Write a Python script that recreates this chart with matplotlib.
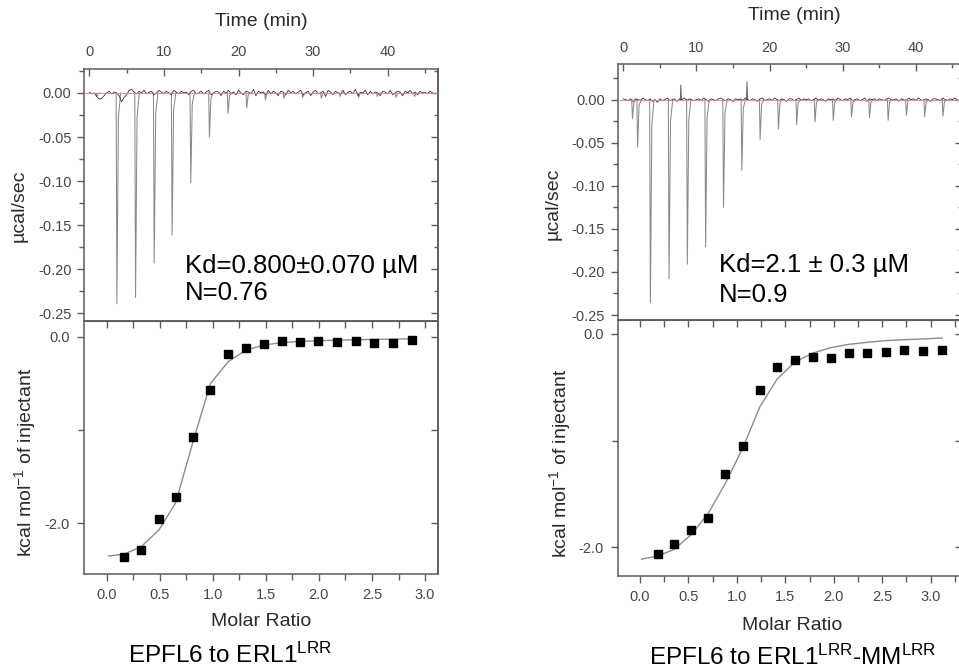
import numpy as np
import matplotlib
matplotlib.use("Agg")
import matplotlib.pyplot as plt
from matplotlib.ticker import MultipleLocator, FormatStrFormatter

plt.rcParams.update({
    "font.family": "sans-serif",
    "font.sans-serif": ["Liberation Sans", "DejaVu Sans"],
    "mathtext.fontset": "custom",
    "mathtext.rm": "Liberation Sans",
    "mathtext.it": "Liberation Sans:italic",
    "mathtext.bf": "Liberation Sans:bold",
    "axes.unicode_minus": False,
})

W, H = 959, 671
INK, TICK, SPINE = "#2a2a2a", "#474747", "#5c5c5c"

# ---- raw thermograms: injection times (min) and peak heights (µcal/sec) ----
L_INJ_T = [1.0, 3.7, 6.2, 8.7, 11.1, 13.6, 16.1, 18.6, 21.1, 23.6, 26.1, 28.6, 31.1,
           33.6, 36.1, 38.6, 41.1, 43.6]
L_INJ_D = [-0.004, -0.239, -0.232, -0.193, -0.161, -0.102, -0.050, -0.023, -0.017,
           -0.008, -0.006, -0.005, -0.006, -0.004, -0.005, -0.004, -0.005, -0.004]
R_INJ_T = [1.25, 1.95, 3.7, 6.25, 8.75, 11.25, 13.7, 16.2, 18.7, 21.2, 23.7, 26.2,
           28.7, 31.2, 33.65, 36.2, 38.7, 41.2, 43.7]
R_INJ_D = [-0.022, -0.055, -0.236, -0.208, -0.191, -0.171, -0.125, -0.082, -0.046,
           -0.034, -0.029, -0.026, -0.024, -0.020, -0.021, -0.024, -0.018, -0.020, -0.019]
R_SPIKE_T = [7.85, 16.9]
R_SPIKE_H = [0.017, 0.021]

# baseline wiggle, 1e-3 µcal/sec, three samples per minute from 0 to 46 min
L_NOISE = [1, -1, 0, -4, -7, -6, -3, 0, 2, -1, 1, 0, -3, -10, -5,
           -2, 3, 4, 1, -1, 2, 0, 3, -1, 1, 2, -2, 0, 3, 1,
           -1, 2, 0, -2, 3, 1, -1, 2, 0, 1, -2, 2, 3, -1, 0,
           2, -1, 1, 3, -2, 0, 2, 1, -3, 2, 0, 3, -1, 1, -2,
           3, 0, -2, 2, 1, -1, 4, -3, 2, 0, 1, -2, 3, -1, 2,
           0, -3, 2, 1, -2, 3, 0, 2, -1, 1, 3, -2, 0, 2, -3,
           1, 3, -1, 0, 2, -4, 3, 1, -2, 2, 0, -1, 3, -2, 1,
           2, -1, 4, -3, 1, 0, 3, -2, 2, -1, 1, 0, -3, 2, 1,
           -1, 3, -2, 0, 2, 1, -3, 2, 0, 3, -1, 1, -2, 2, 0,
           1, -1, 2, 0]
R_NOISE = [1, 0, -1, 1, -2, 1, 0, -1, 2, 0, -1, 1, -2, 0, -3,
           1, -1, 0, 2, -1, 0, 1, -2, 1, 0, 2, -1, 1, 0, -1,
           0, 1, -1, 2, 0, -2, 1, 0, -1, 1, 2, 0, -1, 1, 0,
           -2, 1, 0, 1, -1, 2, 0, -1, 1, 0, -2, 1, 2, -1, 0,
           1, -1, 2, 0, -1, 1, 0, -2, 1, 1, -1, 0, 2, -1, 1,
           0, 1, -1, 0, 2, -1, 1, 0, -2, 1, 0, 1, -1, 2, 0,
           -1, 1, 0, 2, -1, 0, 1, -1, 0, 2, -2, 1, 0, 1, -1,
           1, 0, -1, 1, 2, -1, 0, 1, -2, 1, 0, -1, 2, 0, 1,
           -1, 2, 0, -1, 1, 0, -2, 1, 1, 0, -1, 2, 0, -1, 1,
           0, 2, -1, 0]

# ---- integrated heats (kcal/mol of injectant) vs molar ratio ----
L_X = [0.166, 0.326, 0.493, 0.650, 0.810, 0.978, 1.145, 1.314, 1.484, 1.654, 1.826,
       1.995, 2.171, 2.347, 2.523, 2.702, 2.881]
L_Y = [-2.357, -2.282, -1.953, -1.713, -1.077, -0.569, -0.182, -0.122, -0.075, -0.043,
       -0.050, -0.039, -0.054, -0.039, -0.061, -0.068, -0.032]
L_FIT_X = [0.015, 0.166, 0.326, 0.493, 0.650, 0.810, 0.978, 1.145, 1.314, 1.484, 1.654,
           1.826, 1.995, 2.171, 2.347, 2.523, 2.702, 2.881]
L_FIT_Y = [-2.35, -2.33, -2.25, -2.07, -1.78, -1.14, -0.50, -0.265, -0.14, -0.086, -0.06,
           -0.048, -0.04, -0.034, -0.03, -0.026, -0.023, -0.02]
R_X = [0.182, 0.351, 0.530, 0.705, 0.881, 1.060, 1.238, 1.417, 1.603, 1.782, 1.968,
       2.157, 2.346, 2.535, 2.728, 2.921, 3.117]
R_Y = [-2.062, -1.971, -1.837, -1.721, -1.315, -1.050, -0.522, -0.312, -0.240, -0.212,
       -0.222, -0.181, -0.181, -0.169, -0.147, -0.162, -0.147]
R_FIT_X = [0.017, 0.182, 0.351, 0.530, 0.705, 0.881, 1.060, 1.238, 1.417, 1.603, 1.782,
           1.968, 2.157, 2.346, 2.535, 2.728, 2.921, 3.117]
R_FIT_Y = [-2.11, -2.08, -2.02, -1.88, -1.68, -1.40, -1.07, -0.68, -0.42, -0.26, -0.18,
           -0.128, -0.097, -0.078, -0.0625, -0.053, -0.047, -0.0375]

L_FIT_TXT = ["Kd=0.800±0.070 µM", "N=0.76"]
R_FIT_TXT = ["Kd=2.1 ± 0.3 µM", "N=0.9"]
L_CAPTION = "EPFL6 to ERL1$^{\\rm LRR}$"
R_CAPTION = "EPFL6 to ERL1$^{\\rm LRR}$-MM$^{\\rm LRR}$"

fig = plt.figure(figsize=(W / 100, H / 100), dpi=100)


def axes_px(x0, y0, x1, y1):
    return fig.add_axes([x0 / W, 1 - y1 / H, (x1 - x0) / W, (y1 - y0) / H])


def style_frame(ax):
    for s in ax.spines.values():
        s.set_color(SPINE)
        s.set_linewidth(1.1)


def raw_panel(ax, inj_t, inj_d, noise, xlim, ylim, spikes=()):
    t = np.linspace(0, 46, len(noise))
    ax.plot(t, np.array(noise) * 1e-3, color="#333333", lw=0.6, zorder=3)
    for ti, d in zip(inj_t, inj_d):
        ax.plot([ti - 0.1, ti, ti + 0.2, ti + 0.5], [0, d, 0.12 * d, 0],
                color="#8a8a8a", lw=0.75, zorder=2)
    for ti, h in spikes:
        ax.plot([ti - 0.06, ti, ti + 0.1], [0, h, 0], color="#6a6a6a", lw=0.7, zorder=2)
    ax.axhline(0, color="#d98a8a", lw=0.6, zorder=4)
    ax.set_xlim(*xlim)
    ax.set_ylim(*ylim)
    style_frame(ax)
    ax.xaxis.set_ticks_position("top")
    ax.xaxis.set_major_locator(MultipleLocator(10))
    ax.xaxis.set_minor_locator(MultipleLocator(5))
    ax.xaxis.set_major_formatter(FormatStrFormatter("%d"))
    ax.tick_params(axis="x", which="both", direction="in", top=True, bottom=False,
                   labeltop=True, labelbottom=False, pad=7, labelsize=10.5,
                   colors=SPINE, labelcolor=TICK, width=1.0)
    ax.tick_params(axis="x", which="major", length=5)
    ax.tick_params(axis="x", which="minor", length=3)
    ax.yaxis.set_major_locator(MultipleLocator(0.05))
    ax.yaxis.set_minor_locator(MultipleLocator(0.025))
    ax.yaxis.set_major_formatter(FormatStrFormatter("%.2f"))
    ax.tick_params(axis="y", which="both", direction="out", right=False, pad=4,
                   labelsize=10.5, colors=SPINE, labelcolor=TICK, width=1.0)
    ax.tick_params(axis="y", which="major", length=5)
    ax.tick_params(axis="y", which="minor", length=3.5)
    sec = ax.secondary_yaxis("right")
    sec.spines["right"].set_color(SPINE)
    sec.spines["right"].set_linewidth(1.1)
    sec.yaxis.set_major_locator(MultipleLocator(0.05))
    sec.yaxis.set_minor_locator(MultipleLocator(0.025))
    sec.tick_params(axis="y", which="both", direction="in", labelright=False,
                    colors=SPINE, width=1.0)
    sec.tick_params(axis="y", which="major", length=5)
    sec.tick_params(axis="y", which="minor", length=3)


def heat_panel(ax, x, y, fx, fy, xlim, ylim):
    ax.plot(fx, fy, color="#8c8c8c", lw=1.0, zorder=2)
    ax.plot(x, y, ls="none", marker="s", ms=6, color="black", zorder=3)
    ax.set_xlim(*xlim)
    ax.set_ylim(*ylim)
    style_frame(ax)
    ax.xaxis.set_major_locator(MultipleLocator(0.5))
    ax.xaxis.set_minor_locator(MultipleLocator(0.25))
    ax.xaxis.set_major_formatter(FormatStrFormatter("%.1f"))
    ax.yaxis.set_major_locator(MultipleLocator(2.0))
    ax.yaxis.set_minor_locator(MultipleLocator(1.0))
    ax.yaxis.set_major_formatter(FormatStrFormatter("%.1f"))
    ax.tick_params(which="both", direction="out", top=False, right=False, pad=5,
                   labelsize=10.5, colors=SPINE, labelcolor=TICK, width=1.0)
    ax.tick_params(which="major", length=5)
    ax.tick_params(which="minor", length=4)
    top = ax.secondary_xaxis("top")
    top.spines["top"].set_color(SPINE)
    top.xaxis.set_major_locator(MultipleLocator(0.5))
    top.xaxis.set_minor_locator(MultipleLocator(0.25))
    top.tick_params(which="both", direction="in", labeltop=False, colors=SPINE,
                    width=1.0, length=5)
    rt = ax.secondary_yaxis("right")
    rt.spines["right"].set_color(SPINE)
    rt.spines["right"].set_linewidth(1.1)
    rt.yaxis.set_major_locator(MultipleLocator(2.0))
    rt.yaxis.set_minor_locator(MultipleLocator(1.0))
    rt.tick_params(which="both", direction="in", labelright=False, colors=SPINE,
                   width=1.0, length=5)


# left experiment
ax_lt = axes_px(84, 69, 438, 321.5)
raw_panel(ax_lt, L_INJ_T, L_INJ_D, L_NOISE, (-0.71, 46.74), (-0.2593, 0.0272))
ax_lb = axes_px(84, 321.5, 438, 574)
heat_panel(ax_lb, L_X, L_Y, L_FIT_X, L_FIT_Y, (-0.213, 3.122), (-2.543, 0.166))

# right experiment (frame runs past the right edge of the picture)
ax_rt = axes_px(617.7, 64.3, 962, 320)
raw_panel(ax_rt, R_INJ_T, R_INJ_D, R_NOISE, (-0.77, 46.3), (-0.2558, 0.0411),
          spikes=list(zip(R_SPIKE_T, R_SPIKE_H)))
ax_rb = axes_px(617.7, 320, 962, 576)
heat_panel(ax_rb, R_X, R_Y, R_FIT_X, R_FIT_Y, (-0.230, 3.323), (-2.268, 0.131))


def ftext(px, py, s, **kw):
    fig.text(px / W, 1 - py / H, s, **kw)


lab = dict(fontsize=14, color=INK, ha="center", va="center")
ftext(261.7, 21, "Time (min)", **lab)
ftext(794.2, 16, "Time (min)", **lab)
ftext(19, 206, "µcal/sec", rotation=90, **lab)
ftext(553, 204, "µcal/sec", rotation=90, **lab)
ftext(25, 462, "kcal mol$^{-1}$ of injectant", rotation=90, **lab)
ftext(560, 463, "kcal mol$^{-1}$ of injectant", rotation=90, **lab)
ftext(260.8, 622, "Molar Ratio", **lab)
ftext(791.7, 626, "Molar Ratio", **lab)

big = dict(fontsize=18.5, color="black", ha="left", va="baseline")
ftext(185, 273, L_FIT_TXT[0], **big)
ftext(185, 300, L_FIT_TXT[1], **big)
ftext(719, 272, R_FIT_TXT[0], **big)
ftext(719, 302, R_FIT_TXT[1], **big)

cap = dict(fontsize=17.5, color="black", ha="center", va="baseline")
ftext(230, 663, L_CAPTION, **cap)
ftext(793, 665, R_CAPTION, **cap)

fig.savefig("out.png", dpi=100, facecolor="white")
